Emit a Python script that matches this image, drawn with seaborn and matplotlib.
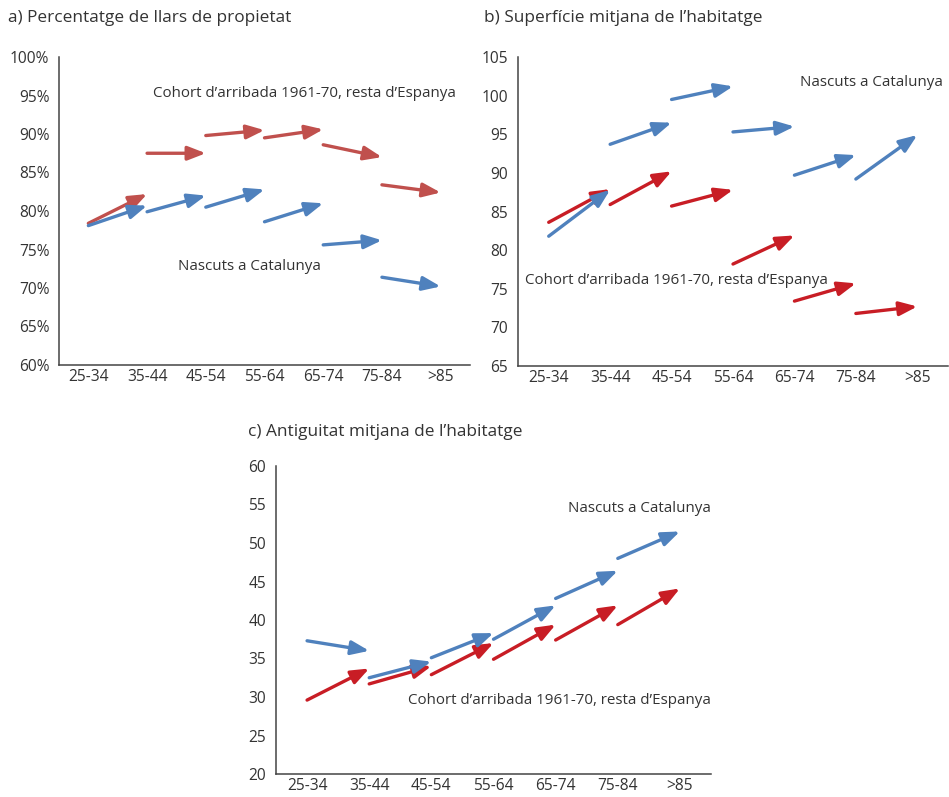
import matplotlib
matplotlib.use("Agg")
import matplotlib.pyplot as plt
import seaborn as sns

# Age groups (x categories)
ages = ['25-34', '35-44', '45-54', '55-64', '65-74', '75-84', '>85']

# a) % of owner households: each arrow goes from age i (start) to age i+1 (end)
a_cat_start = [78.1, 79.9, 80.5, 78.6, 75.6, 71.4]
a_cat_end = [80.7, 82.0, 82.8, 81.0, 76.2, 70.2]
a_esp_start = [78.4, 87.5, 89.8, 89.5, 88.6, 83.4]
a_esp_end = [82.2, 87.5, 90.5, 90.6, 87.0, 82.4]

# b) mean dwelling surface
b_cat_start = [81.8, 93.7, 99.5, 95.3, 89.7, 89.2]
b_cat_end = [87.8, 96.5, 101.2, 96.0, 92.3, 94.9]
b_esp_start = [83.6, 85.9, 85.7, 78.2, 73.4, 71.8]
b_esp_end = [87.9, 90.2, 87.8, 81.9, 75.7, 72.7]

# c) mean dwelling age
c_cat_start = [37.3, 32.5, 35.1, 37.5, 42.8, 48.0]
c_cat_end = [36.0, 34.6, 38.3, 41.9, 46.4, 51.5]
c_esp_start = [29.6, 31.7, 32.9, 34.9, 37.4, 39.4]
c_esp_end = [33.7, 34.0, 37.0, 39.4, 41.9, 44.1]

lbl_cat = "Nascuts a Catalunya"
lbl_esp = "Cohort d\u2019arribada 1961-70, resta d\u2019Espanya"

blue = '#4F81BD'
red_a = '#C0504D'
red_bc = '#C81D25'
txt = '#333333'

sns.set_style("white")
plt.rcParams['font.family'] = ['Open Sans', 'DejaVu Sans']

fig = plt.figure(figsize=(9.49, 7.97), dpi=100)
W, H = 949, 797


def px_axes(l, t, r, b):
    return fig.add_axes([l / W, 1 - b / H, (r - l) / W, (b - t) / H])


def arrows(ax, starts, ends, color):
    for i, (s, e) in enumerate(zip(starts, ends)):
        ax.annotate('', xy=(i + 1, e), xytext=(i, s),
                    arrowprops=dict(arrowstyle='-|>,head_length=0.9,head_width=0.35',
                                    color=color, lw=2.4, shrinkA=0, shrinkB=0,
                                    mutation_scale=12))


def style(ax, ylo, yhi, step, pct=False):
    ax.set_xlim(-0.5, len(ages) - 0.5)
    ax.set_ylim(ylo, yhi)
    ax.set_xticks(range(len(ages)))
    ax.set_xticklabels(ages)
    ax.set_xticks([i - 0.5 for i in range(len(ages) + 1)], minor=True)
    yt = list(range(ylo, yhi + 1, step))
    ax.set_yticks(yt)
    if pct:
        ax.set_yticklabels([f"{v}%" for v in yt])
    ax.tick_params(axis='x', which='major', length=0, pad=3, labelsize=11.2, labelcolor=txt)
    ax.tick_params(axis='x', which='minor', length=4, direction='out', color='#555555', width=0.8)
    ax.tick_params(axis='y', length=4, direction='out', color='#555555', width=0.8,
                   pad=3, labelsize=11.2, labelcolor=txt)
    sns.despine(ax=ax)
    for sp in ('left', 'bottom'):
        ax.spines[sp].set_color('#444444')
        ax.spines[sp].set_linewidth(1.1)
    ax.set_facecolor('white')


# panel a
ax1 = px_axes(59, 57, 470, 365)
style(ax1, 60, 100, 5, pct=True)
arrows(ax1, a_esp_start, a_esp_end, red_a)
arrows(ax1, a_cat_start, a_cat_end, blue)
ax1.text(1.10, 95.2, lbl_esp, fontsize=10.9, color=txt, va='center', ha='left')
ax1.text(1.53, 72.8, lbl_cat, fontsize=10.9, color=txt, va='center', ha='left')
fig.text(8 / W, 1 - 18 / H, "a) Percentatge de llars de propietat", fontsize=12.4,
         color=txt, va='center', ha='left')

# panel b
ax2 = px_axes(518, 57, 948, 366)
style(ax2, 65, 105, 5)
arrows(ax2, b_esp_start, b_esp_end, red_bc)
arrows(ax2, b_cat_start, b_cat_end, blue)
ax2.text(4.09, 101.7, lbl_cat, fontsize=10.9, color=txt, va='center', ha='left')
ax2.text(-0.39, 76.1, lbl_esp, fontsize=10.9, color=txt, va='center', ha='left')
fig.text(484 / W, 1 - 18 / H, "b) Superf\u00edcie mitjana de l\u2019habitatge", fontsize=12.4,
         color=txt, va='center', ha='left')

# panel c
ax3 = px_axes(276, 466, 711, 774)
style(ax3, 20, 60, 5)
arrows(ax3, c_esp_start, c_esp_end, red_bc)
arrows(ax3, c_cat_start, c_cat_end, blue)
ax3.text(6.5, 54.5, lbl_cat, fontsize=10.9, color=txt, va='center', ha='right')
ax3.text(6.5, 29.5, lbl_esp, fontsize=10.9, color=txt, va='center', ha='right')
fig.text(248 / W, 1 - 432 / H, "c) Antiguitat mitjana de l\u2019habitatge", fontsize=12.4,
         color=txt, va='center', ha='left')

fig.savefig("out.png", dpi=100, facecolor='white')
